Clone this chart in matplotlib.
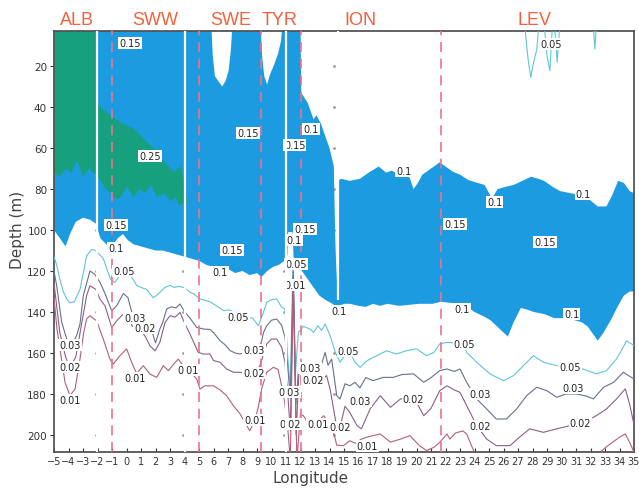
import numpy as np
import matplotlib.pyplot as plt
from matplotlib.transforms import blended_transform_factory

# --- datos (longitud, profundidad en m) ---

# borde superior de la zona >= 0.1 (azul)
azul_sup_lon = [-5, 5.85, 5.95, 6.1, 6.4, 6.6, 6.85, 7.05, 7.2, 7.3, 9.25, 9.35, 9.5, 9.7, 9.9,
                10.2, 10.45, 10.65, 10.75, 12.0, 12.05, 12.5, 12.9, 13.1, 13.4, 13.8, 14.0, 14.3,
                14.4, 14.5, 14.58, 14.8, 15.4, 16.1, 16.7, 17.4, 17.9, 18.3, 18.8, 19.2, 19.5,
                19.8, 20.1, 20.4, 21.0, 21.6, 22.0, 22.5, 23.0, 23.6, 24.2, 24.7, 25.2, 25.6,
                26.1, 26.7, 27.3, 27.9, 28.4, 28.8, 29.4, 29.9, 30.6, 31.3, 31.9, 32.5, 33.1,
                33.5, 33.9, 34.3, 34.7, 35.0]
azul_sup_dep = [0, 0, 15, 25, 28, 30, 27, 22, 12, 0, 0, 15, 25, 29, 24,
                19, 14, 8, 0, 0, 33, 38, 46, 44, 48, 56, 60, 69,
                105, 125, 76, 75, 76, 75, 72, 69, 72, 71, 73, 70, 74,
                80, 77, 73, 70, 67, 69, 71.5, 73, 75.7, 77, 78, 84.6, 80,
                79, 78, 76, 74, 75, 76, 79, 81, 82, 83, 85, 88.5, 88.5,
                83, 76, 77, 81, 82]

# borde inferior (isolinea 0.1)
azul_inf_lon = [-5, -4.6, -4.2, -3.9, -3.5, -3.0, -2.5, -2.1, -1.8, -1.4, -1.0, -0.6, -0.25,
                0.1, 0.5, 1.0, 1.5, 2.0, 2.5, 3.0, 3.5, 4.0, 4.5, 5.0, 5.5, 6.0, 6.5, 7.0,
                7.5, 8.0, 8.5, 9.0, 9.3, 9.7, 10.1, 10.5, 10.9, 11.1, 11.15, 11.45, 11.55,
                12.0, 12.5, 13.0, 13.3, 13.7, 14.2, 14.5, 15.0, 15.4, 16.0, 16.5, 17.0, 17.5,
                18.0, 18.8, 19.5, 20.2, 21.1, 21.7, 22.3, 22.8, 23.4, 24.0, 24.6, 25.1, 25.7,
                26.3, 26.7, 27.2, 27.7, 28.1, 28.8, 29.5, 30.2, 30.9, 31.4, 31.8, 32.2, 32.5,
                32.9, 33.4, 33.9, 34.3, 34.7, 35.0]
azul_inf_dep = [100, 104, 108, 102, 96, 94, 95, 97, 104, 107, 108, 104, 102,
                105, 107, 108, 109, 110, 110, 111, 112, 113, 114, 115, 117, 118, 120, 119,
                121, 120, 122, 121, 123, 120, 118, 117, 115, 112, 101, 101, 118,
                119, 124, 129, 132, 134, 136, 137.5, 136, 136, 137, 137.5, 136, 137,
                136, 137, 136.5, 136, 136, 135, 135.5, 136, 137, 140, 142, 144, 148,
                152, 145, 138, 139, 140, 141, 143, 143, 144, 145, 147, 151, 154,
                150, 144, 137, 132, 130, 130]

# zona >= 0.25 (verde)
verde_lon = [-5, -2.1, -2.05, -1.8, -1.3, -0.9, -0.3, 0.5, 1.0, 1.4, 2.0, 2.4, 2.9, 3.3, 3.5,
             3.7, 3.9, 4.05, 4.2, 4.0, 3.6, 3.4, 3.0, 2.6, 2.1, 1.7, 1.3, 0.9, 0.5, 0.0, -0.4,
             -0.7, -1.1, -1.4, -1.8, -2.1, -2.6, -3.0, -3.4, -3.8, -4.2, -4.6, -5]
verde_dep = [0, 0, 38, 40, 43, 45, 48, 50.5, 54, 57, 61, 65, 69, 72, 70,
             69, 74, 80, 86, 87, 88, 84, 86, 82, 84, 78, 82, 80, 84, 79, 84,
             85, 82, 80, 76, 73, 70, 74, 66, 72, 70, 74, 72]

# isolineas
c05_lon = [-5, -4.82, -4.6, -4.36, -4.1, -3.9, -3.6, -3.21, -2.95, -2.75, -2.4, -2.1, -1.85,
           -1.6, -1.3, -1.1, -0.8, -0.55, -0.33, 0.0, 0.24, 0.45, 0.7, 1.0, 1.39, 1.6, 1.85,
           2.05, 2.3, 2.65, 3.0, 3.3, 3.6, 3.92, 4.15, 4.38, 4.6, 5.07, 5.5, 5.76, 6.2, 6.7,
           7.1, 7.5, 7.9, 8.3, 8.7, 9.1, 9.44, 9.67, 10.0, 10.36, 10.7, 10.93, 11.1, 11.3,
           11.48, 11.65, 11.85, 12.2, 12.66, 12.9, 13.2, 13.45, 13.7, 14.04, 14.4, 14.73,
           15.05, 15.4, 15.76, 16.1, 16.6, 17.26, 17.95, 18.6, 19.3, 20.0, 20.7, 21.2, 21.6,
           22.1, 22.6, 23.0, 23.46, 24.15, 25.07, 26.0, 26.7, 27.37, 28.06, 28.75, 29.67,
           30.6, 31.5, 32.4, 33.1, 33.8, 34.5, 35.0]
c05_dep = [113, 117, 124, 130, 134, 135.5, 135, 129, 120, 112.5, 109.5, 110, 112,
           114, 120, 124, 125.6, 123, 120.7, 121, 122, 124, 127, 128, 129, 131, 133,
           132, 130.4, 128, 127, 128, 127.5, 128, 129, 130.4, 131, 133.6, 134.5, 135, 137, 139.3,
           139, 140.5, 141, 142.6, 143, 146.7, 140.2, 135.3, 134, 133.6, 137.7, 138.5, 160, 178,
           116, 170, 150, 147, 148.3, 150, 146.7, 149, 145.8, 151.5, 159.7, 164.5,
           161, 159.7, 164.5, 167, 163.7, 161.3, 158.9, 160.5, 158.9, 158, 161.3, 159.7, 155.6,
           154.8, 155, 153.2, 159.7, 164.5, 170.2, 173.5, 171, 166.2, 161.3, 164.5, 166.2,
           167.8, 167.8, 170.2, 168.6, 162.9, 154, 156.4]

c03_lon = [-5, -4.82, -4.47, -4.13, -3.78, -3.44, -3.21, -2.98, -2.75, -2.52, -2.2, -1.83,
           -1.48, -1.02, -0.68, -0.22, 0.1, 0.36, 0.7, 0.93, 1.16, 1.39, 1.74, 2.0, 2.3, 2.5,
           2.77, 3.1, 3.4, 3.69, 4.04, 4.38, 4.84, 5.3, 5.76, 6.0, 6.45, 6.8, 7.14, 7.5, 7.83,
           8.2, 8.5, 8.85, 9.2, 9.45, 9.67, 10.0, 10.36, 10.7, 10.93, 11.1, 11.3, 11.5, 11.68,
           11.9, 12.4, 12.9, 13.35, 13.7, 13.9, 14.15, 14.5, 14.73, 15.07, 15.4, 15.76, 16.1,
           16.5, 17.0, 17.7, 18.4, 19.0, 19.8, 20.5, 21.0, 21.6, 22.1, 22.6, 23.0, 23.46,
           24.15, 24.84, 25.5, 26.2, 26.9, 27.6, 28.3, 29.0, 29.67, 30.3, 31.05, 31.7, 32.2,
           32.9, 33.6, 34.26, 35.0]
c03_dep = [120, 127, 145, 153, 156, 151.5, 146, 132, 126, 120, 121.5, 125.5,
           131, 139.4, 137, 131, 133, 140, 146.7, 148.3, 145, 145.1, 149.1, 155, 148.3, 145,
           138.5, 137.5, 138, 136.1, 140.2, 143, 147.5, 148.3, 148.5, 150, 154, 156, 158.8, 160, 160.5,
           159.5, 158.8, 159.5, 158, 150, 146.7, 144, 143.4, 146.5, 152.3, 165, 182, 120, 185,
           165, 166, 168, 167.8, 159.7, 166, 163, 180.8, 182.4, 175, 176, 174.3, 177,
           172, 173.5, 171.9, 171.9, 170.5, 170.2, 174.3, 172, 168.6, 167.8, 169, 167.8, 174.3,
           182.4, 187.3, 192.2, 192.2, 187.3, 180.8, 176.7, 178.4, 181.6, 180, 180, 181, 182.4,
           176.7, 174.3, 169.4, 172.7]

c02_lon = [-5, -4.6, -4.2, -3.9, -3.5, -3.2, -2.75, -2.52, -2.1, -1.83, -1.48, -1.02, -0.68,
           -0.22, 0.1, 0.4, 0.93, 1.3, 1.62, 1.97, 2.3, 2.66, 3.0, 3.35, 3.69, 4.04, 4.38, 4.95,
           5.3, 5.76, 6.0, 6.45, 6.9, 7.37, 7.83, 8.3, 8.75, 9.2, 9.67, 10.0, 10.36, 10.7,
           10.93, 11.1, 11.3, 11.5, 11.7, 11.9, 12.2, 12.66, 12.9, 13.35, 13.8, 14.05, 14.4,
           14.5, 14.73, 15.07, 15.4, 15.9, 16.2, 16.8, 17.5, 18.2, 18.9, 19.55, 20.0, 20.5,
           21.0, 21.6, 22.1, 22.6, 23.0, 23.46, 24.15, 24.84, 25.5, 26.45, 27.1, 27.8, 28.75,
           29.67, 30.6, 31.5, 32.4, 33.1, 33.8, 34.4, 34.7, 35.0]
c02_dep = [126, 150, 162, 167, 162, 150, 132, 127.2, 129, 133.7, 137, 147.5, 144.3,
           141, 142, 147, 148.3, 152, 156.5, 158.9, 154.8, 145.1, 141.8, 142.5, 140.2, 145.9, 150.8, 159.7,
           160.5, 160.5, 163.7, 164.5, 167.8, 169.4, 169.4, 170.2, 170.2, 166.2, 155.6, 153.2, 153.2, 157.2,
           164.5, 178, 198, 123, 200, 168, 170, 173, 173, 174.3, 171, 178, 192.2,
           197, 196, 186, 189, 195.4, 197, 187.3, 180.8, 186.5, 182.4, 181.6, 184, 190.6,
           187, 178.4, 176, 178, 179.2, 185.7, 195.4, 202, 205.2, 205.2, 201.1, 197, 198.7,
           197, 195.4, 193.8, 190.6, 187.3, 182.4, 177.5, 185, 195]

c01_lon = [-5, -4.8, -4.59, -4.24, -3.9, -3.55, -3.21, -2.95, -2.75, -2.52, -2.06, -1.6, -1.14,
           -0.91, -0.45, 0.01, 0.36, 0.7, 1.16, 1.62, 2.08, 2.54, 2.89, 3.35, 3.57, 4.0, 4.5,
           4.84, 5.07, 5.4, 6.0, 6.45, 6.9, 7.37, 7.83, 8.29, 8.5, 8.86, 9.1, 9.32, 9.67, 10.13,
           10.45, 10.7, 10.85, 11.1, 11.3, 11.5, 11.75, 12.0, 12.2, 12.66, 13.1, 13.6, 13.85,
           14.15, 14.4, 14.5, 14.96, 15.4, 15.76, 16.2, 16.6, 17.5, 18.2, 18.9, 19.55, 20.2,
           20.7, 21.2, 21.6, 22.1, 22.3, 22.7, 23.2, 23.46, 23.9, 24.3, 25.0, 32.0, 32.65,
           33.35, 34.0, 34.4, 34.7, 35.0]
c01_dep = [133, 148, 158, 174.3, 180.8, 177.6, 163, 150, 143.4, 141.8, 144.3, 153.2, 163,
           165.4, 161.3, 158, 164.6, 170, 166.2, 170.3, 171.9, 166.2, 168.6, 164.6, 163, 167, 170,
           172.7, 177.6, 176, 176, 178, 180.8, 185.7, 189.7, 195.4, 197.9, 193, 186, 177.5, 169.4, 167,
           168, 176, 181, 195, 212, 126, 212, 190, 190.6, 195.4, 194, 190.6, 193,
           195.4, 202, 205, 205.2, 202.8, 204, 202, 201, 199.5, 203.5, 202, 200.3, 205.2,
           207.6, 206, 203.6, 199.5, 202, 199, 198, 199.5, 207, 214, 216, 216, 208.4,
           204.4, 201.1, 199.5, 203.6, 208.4]

# pequenos contornos 0.05 cerca de la superficie (LEV)
lev_lon = [[27.5, 27.7, 27.88, 28.05, 28.3, 28.4],
           [28.85, 29.0, 29.2, 29.35],
           [29.55, 29.7, 29.85],
           [32.22, 32.3, 32.38]]
lev_dep = [[3, 17, 25.5, 19, 11.7, 3],
           [3, 15, 22.3, 3],
           [3, 18.2, 3],
           [3, 11.7, 3]]

# etiquetas de las isolineas (lon, prof, texto)
etiquetas = [(0.24, 8.8, '0.15'), (1.62, 63.9, '0.25'), (8.38, 52.7, '0.15'), (12.72, 50.7, '0.1'),
             (11.6, 58.5, '0.15'), (19.14, 71.2, '0.1'), (25.4, 86.3, '0.1'), (31.5, 82.4, '0.1'),
             (-0.72, 97.6, '0.15'), (-0.72, 108.8, '0.1'), (-0.17, 120, '0.05'), (7.28, 109.8, '0.15'),
             (6.45, 120.5, '0.1'), (12.3, 99.5, '0.15'), (11.55, 105, '0.1'), (11.7, 116.6, '0.05'),
             (11.65, 126.8, '0.01'), (22.66, 97, '0.15'), (28.86, 105.9, '0.15'), (14.65, 139.5, '0.1'),
             (23.14, 138.5, '0.1'), (30.7, 141, '0.1'), (7.69, 142.4, '0.05'), (0.59, 142.9, '0.03'),
             (1.28, 147.8, '0.02'), (-3.9, 156, '0.03'), (-3.9, 166.8, '0.02'), (-3.9, 183, '0.01'),
             (0.59, 172.4, '0.01'), (4.25, 168.3, '0.01'), (8.8, 158.5, '0.03'), (8.8, 169.8, '0.02'),
             (8.86, 192.7, '0.01'), (11.2, 179, '0.03'), (11.3, 194.6, '0.02'), (12.66, 167.3, '0.03'),
             (12.86, 173, '0.02'), (13.2, 194.6, '0.01'), (14.75, 196, '0.02'), (15.3, 159, '0.05'),
             (16.1, 183.4, '0.03'), (19.8, 182.4, '0.02'), (16.6, 205.3, '0.01'), (23.3, 155.6, '0.05'),
             (24.4, 180, '0.03'), (24.4, 195.6, '0.02'), (30.6, 166.8, '0.05'), (30.8, 177, '0.03'),
             (31.3, 194.1, '0.02'), (29.3, 9.3, '0.05')]

regiones = ['ALB', 'SWW', 'SWE', 'TYR', 'ION', 'LEV']
regiones_lon = [-3.41, 1.97, 7.2, 10.59, 16.1, 28.17]
limites_lon = [-1.0, 5.0, 9.28, 12.03, 21.69]
estaciones_lon = [-2.03, 4.03, 11.0, 14.58]
estaciones_fondo = [208.3, 208.3, 208.3, 134]
puntos_lon = [-2.13, 3.92, 10.88, 14.3]
puntos_dep = [20, 40, 60, 80, 100, 120, 140, 160, 180, 200]

# --- figura ---
fig = plt.figure(figsize=(6.39, 4.89), dpi=100)
ax = fig.add_axes([54/639, 1-453/489, 580/639, 421/489])

azul = '#1d9be0'
verde = '#16a07e'

for lo in puntos_lon:
    ax.plot([lo]*len(puntos_dep), puntos_dep, ls='none', marker='.', ms=2, color='#9a9a9a', zorder=0)

ax.fill(np.r_[azul_sup_lon, azul_inf_lon[::-1]], np.r_[azul_sup_dep, azul_inf_dep[::-1]],
        color=azul, lw=0, zorder=1)
ax.fill(verde_lon, verde_dep, color=verde, lw=0, zorder=2)

lw = 0.8
ax.plot(c05_lon, c05_dep, color='#5ec6d8', lw=lw, zorder=3)
ax.plot(c03_lon, c03_dep, color='#66708f', lw=lw, zorder=3)
ax.plot(c02_lon, c02_dep, color='#8c5f86', lw=lw, zorder=3)
ax.plot(c01_lon, c01_dep, color='#b0607a', lw=lw, zorder=3)
for lo, de in zip(lev_lon, lev_dep):
    ax.plot(lo, de, color='#5ec6d8', lw=lw, zorder=3)

for lo in limites_lon:
    ax.axvline(lo, color='#f0708c', lw=1.2, dashes=(6, 4), zorder=4)

for lo, de, t in etiquetas:
    ax.text(lo, de, t, fontsize=7, color='#222222', ha='center', va='center', zorder=5,
            bbox=dict(boxstyle='square,pad=0.1', fc='white', ec='none'))

ax.vlines(estaciones_lon, 0, estaciones_fondo, color='white', lw=1.6, zorder=6)

trans = blended_transform_factory(ax.transData, ax.transAxes)
for nombre, lo in zip(regiones, regiones_lon):
    ax.text(lo, 1.028, nombre, transform=trans, ha='center', va='center', fontsize=13,
            color='#f2603c', family='Liberation Sans')

ax.set_xlim(-5, 35)
ax.set_ylim(208.3, 2.9)
ax.set_xticks(np.arange(-5, 36, 1))
ax.set_yticks(np.arange(20, 201, 20))
ax.tick_params(axis='x', direction='in', length=3, labelsize=7, colors='#333333', pad=3)
ax.tick_params(axis='y', direction='out', length=3, labelsize=7.5, colors='#333333', pad=2)
for s in ax.spines.values():
    s.set_color('#555555')
    s.set_linewidth(1.3)

ax.set_xlabel('Longitude', fontsize=11, color='#444444')
ax.set_ylabel('Depth (m)', fontsize=11, color='#444444')
ax.xaxis.set_label_coords(0.443, -0.043)
ax.yaxis.set_label_coords(-0.05, 0.53)

plt.savefig('out.png', dpi=100)
